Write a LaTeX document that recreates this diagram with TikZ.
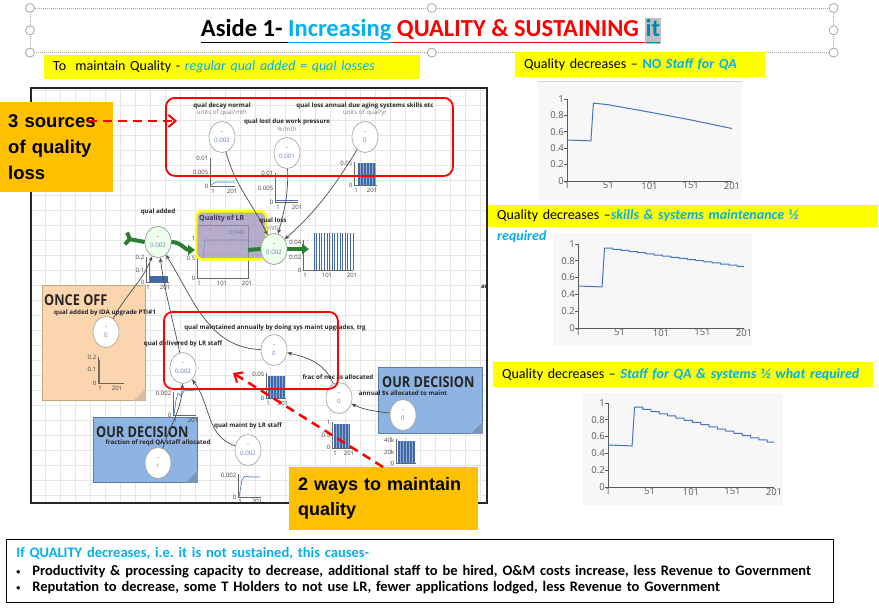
\documentclass[tikz,border=0pt]{standalone}
\usepackage{fontspec}
\setmainfont{Carlito}
\newfontfamily\arialfont{Liberation Sans}
\newfontfamily\imfont{Open Sans}
\usepackage{xcolor}
\usetikzlibrary{arrows.meta,positioning,shapes.geometric}

\definecolor{qcyan}{HTML}{00B0F0}
\definecolor{qred}{HTML}{FF0000}
\definecolor{qyellow}{HTML}{FFFF00}
\definecolor{qorange}{HTML}{FFC000}
\definecolor{decblue}{HTML}{8DB4E2}
\definecolor{decedge}{HTML}{5B7BA6}
\definecolor{peach}{HTML}{FBD5AE}
\definecolor{peachedge}{HTML}{C9A27E}
\definecolor{stockfill}{HTML}{9D92B9}
\definecolor{stocktext}{HTML}{3E3560}
\definecolor{flowgreen}{HTML}{2E7D32}
\definecolor{valblue}{HTML}{6B80B5}
\definecolor{barblue}{HTML}{3F69A9}
\definecolor{plotblue}{HTML}{4472C4}
\definecolor{chartbg}{HTML}{F7F7F7}
\definecolor{hlgrey}{HTML}{BFBFBF}
\definecolor{gridgrey}{HTML}{E6E6E6}

\begin{document}
\begin{tikzpicture}[x=1pt, y=-1pt,
    handle/.style={circle, draw=gray!70, fill=white, line width=0.8, minimum size=9, inner sep=0pt},
    hlbox/.style={fill=qyellow, anchor=north west, inner xsep=9, inner ysep=0, align=left, font=\fontsize{14}{16}\selectfont},
    callout/.style={fill=qorange, anchor=north west, inner xsep=8, inner ysep=0, align=left, font=\arialfont\bfseries\fontsize{18.5}{26}\selectfont},
    redbox/.style={draw=qred, line width=1.8, rounded corners=9, anchor=north west, inner sep=0pt},
    reddash/.style={draw=qred, line width=2.5, dash pattern=on 9pt off 6pt, -{Straight Barb[length=7pt, width=12pt, line width=2pt]}},
    decbox/.style={draw=decedge, fill=decblue, line width=0.8, anchor=north west, inner sep=0pt},
    stockbox/.style={draw=qyellow, line width=2.5, rounded corners=6, fill=stockfill, fill opacity=0.75, anchor=north west, inner sep=0pt},
    mvar/.style={ellipse, draw=gray!75, fill=white, line width=0.6, minimum width=26, minimum height=31, inner sep=0pt, align=center, text=valblue, font=\imfont\fontsize{6.2}{7}\selectfont},
    mflow/.style={mvar, fill=green!7},
    mlbl/.style={inner sep=0pt, text=black!85, font=\imfont\bfseries\fontsize{6.2}{7}\selectfont},
    munit/.style={inner sep=0pt, text=gray, font=\imfont\fontsize{6.2}{7}\selectfont},
    mtick/.style={inner sep=0.6pt, text=black!75, font=\imfont\fontsize{6}{6}\selectfont},
    maxis/.style={draw=black!60, line width=0.5},
    mline/.style={draw=plotblue, line width=0.6},
    mbar/.style={fill=barblue},
    stripe/.style={draw=barblue!55!white, line width=0.3},
    bigtag/.style={anchor=west, inner sep=0pt, text=black!85, font=\imfont\bfseries\fontsize{15}{15}\selectfont},
    link/.style={draw=black!70, line width=0.7, -{Stealth[length=5pt, width=4pt]}},
    pipe/.style={draw=flowgreen, line width=4},
    caxis/.style={draw=black!65, line width=0.9},
    ctick/.style={inner sep=1pt, text=black!65, font=\imfont\fontsize{9.5}{10}\selectfont},
    cline/.style={draw=plotblue, line width=1}
]
\useasboundingbox (0,0) rectangle (879,608);

\node[draw=gray!70, dash pattern=on 1pt off 1pt, line width=0.6, anchor=north west, minimum width=803, minimum height=44, inner sep=0pt] (titleframe) at (30,8) {};
\foreach \a [count=\i] in {north west,north,north east,east,south east,south,south west,west}
  \node[handle] (h\i) at (titleframe.\a) {};
\node[font=\bfseries\fontsize{24.5}{28}\selectfont, inner sep=0pt] (title) at (431,31) {\underline{\vphantom{g}Aside 1-\ }\textcolor{qcyan}{\underline{\vphantom{g}Increasing}}\textcolor{qred}{\underline{\vphantom{g}\ QUALITY \& SUSTAINING\ }}{\setlength{\fboxsep}{1pt}\colorbox{hlgrey}{\textcolor{qcyan!75!black}{\underline{\vphantom{g}it}}}}};

\node[hlbox, minimum width=376, minimum height=24, text width=358] (qualnote) at (44,55) {To\ \ maintain Quality - \textcolor{qcyan}{\itshape regular qual added = qual losses}};
\node[hlbox, minimum width=250, minimum height=25, text width=232] (casea) at (515,52) {Quality decreases -- \textcolor{qcyan}{\bfseries NO \itshape Staff for QA}};
\node[hlbox, minimum width=390, minimum height=22, text width=372] (caseb) at (488,205) {Quality decreases --\textcolor{qcyan}{\bfseries\itshape skills \& systems maintenance ½}};
\node[anchor=west, inner sep=0pt, text=qcyan, font=\bfseries\itshape\fontsize{14}{16}\selectfont] (casebmore) at (497,237) {required};
\node[hlbox, minimum width=380, minimum height=25, text width=362] (casec) at (493,362) {Quality decreases -- \textcolor{qcyan}{\bfseries\itshape Staff for QA \& systems ½ what required}};

\fill[chartbg] (538,81) rectangle (742,200);
\draw[gray!35, line width=1] (538,81) -- (742,81);
\begin{scope}[shift={(567,181)}, x=0.825pt, y=82pt]
  \draw[caxis] (0,1) -- (0,0) -- (200,0);
  \foreach \v in {0,0.2,0.4,0.6,0.8,1} {
    \draw[caxis] (0,\v) -- ++(-3pt,0);
    \node[ctick, anchor=east, xshift=-2pt] (ya\v) at (0,\v) {\v};
  }
  \foreach \t in {1,51,101,151,201}
    \node[ctick, anchor=north] (xa\t) at (\t-1,0) {\t};
  \draw[cline] plot coordinates {(0,0.5) (27,0.49) (29,0.49) (32,0.95) (50,0.93) (100,0.84) (150,0.745) (200,0.64)};
\end{scope}

\fill[chartbg] (553,233) rectangle (752,346);
\begin{scope}[shift={(578,328)}, x=0.83pt, y=84pt]
  \draw[caxis] (0,1) -- (0,0) -- (200,0);
  \foreach \v in {0,0.2,0.4,0.6,0.8,1} {
    \draw[caxis] (0,\v) -- ++(-3pt,0);
    \node[ctick, anchor=east, xshift=-2pt] (yb\v) at (0,\v) {\v};
  }
  \foreach \t in {1,51,101,151,201}
    \node[ctick, anchor=north] (xb\t) at (\t-1,0) {\t};
  \draw[cline] (0,0.5) -- (27,0.49) -- (29,0.49) -- (32,0.95) -- plot[domain=32:200, samples=337] (\x,{0.95-0.0135*floor((\x-32)/10)});
\end{scope}

\fill[chartbg] (583,393) rectangle (783,505);
\begin{scope}[shift={(608,487)}, x=0.83pt, y=84pt]
  \draw[caxis] (0,1) -- (0,0) -- (200,0);
  \foreach \v in {0,0.2,0.4,0.6,0.8,1} {
    \draw[caxis] (0,\v) -- ++(-3pt,0);
    \node[ctick, anchor=east, xshift=-2pt] (yc\v) at (0,\v) {\v};
  }
  \foreach \t in {1,51,101,151,201}
    \node[ctick, anchor=north] (xc\t) at (\t-1,0) {\t};
  \draw[cline] (0,0.5) -- (27,0.49) -- (29,0.49) -- (32,0.95) -- plot[domain=32:200, samples=337] (\x,{0.95-0.026*floor((\x-32)/10)});
\end{scope}

\begin{scope}
  \clip (31,88) rectangle (487,503);
  \fill[white] (31,88) rectangle (487,503);
  \draw[gridgrey, line width=0.5] (31,88) grid[step=15pt] (487,503);

  \node[draw=peachedge, fill=peach, line width=0.6, anchor=north west, minimum width=103, minimum height=115, inner sep=0pt] (oncebox) at (42,285) {};
  \fill[peachedge!70] (oncebox.south east) -- ++(-12,0) -- ++(12,-12) -- cycle;
  \node[bigtag] (oncetag) at (44,300) {\scalebox{0.85}[1]{ONCE OFF}};
  \node[decbox, minimum width=104, minimum height=65] (qadec) at (93,417) {};
  \fill[decedge!80] (qadec.south east) -- ++(-12,0) -- ++(12,-12) -- cycle;
  \node[bigtag] (qadectag) at (96,432) {\scalebox{0.85}[1]{OUR DECISION}};
  \node[decbox, minimum width=104, minimum height=66] (mdec) at (378,367) {};
  \fill[decedge!80] (mdec.south east) -- ++(-12,0) -- ++(12,-12) -- cycle;
  \node[bigtag] (mdectag) at (382,382) {\scalebox{0.85}[1]{OUR DECISION}};

  \draw[maxis] (210,158) -- (210,186) -- (235,186);
  \node[mtick, anchor=east] (d1) at (209,158) {0.01};
  \node[mtick, anchor=east] (d2) at (209,172) {0.005};
  \node[mtick, anchor=east] (d3) at (209,186) {0};
  \node[mtick, anchor=north] (d4) at (213,188) {1};
  \node[mtick, anchor=north] (d5) at (232,188) {201};
  \draw[mline] (211,185) -- (216,182) -- (235,182);

  \draw[maxis] (275,173) -- (275,202) -- (298,202);
  \node[mtick, anchor=east] (p1) at (274,173) {0.01};
  \node[mtick, anchor=east] (p2) at (274,188) {0.005};
  \node[mtick, anchor=east] (p3) at (274,202) {0};
  \node[mtick, anchor=north] (p4) at (278,204) {1};
  \node[mtick, anchor=north] (p5) at (297,204) {201};
  \draw[mline] (276,200) -- (298,200);

  \draw[maxis] (354,162) -- (354,185) -- (377,185);
  \node[mtick, anchor=east] (g1) at (353,163) {0.05};
  \node[mtick, anchor=east] (g2) at (353,185) {0};
  \node[mtick, anchor=north] (g3) at (356,187) {1};
  \node[mtick, anchor=north] (g4) at (372,187) {201};
  \fill[mbar] (358,163) rectangle (376,185);
  \foreach \s in {360,363,...,375} \draw[stripe] (\s,163) -- (\s,185);

  \draw[maxis] (146,257) -- (146,282) -- (169,282);
  \node[mtick, anchor=east] (a1) at (145,257) {0.2};
  \node[mtick, anchor=east] (a2) at (145,270) {0.1};
  \node[mtick, anchor=east] (a3) at (145,282) {0};
  \node[mtick, anchor=north] (a4) at (148,284) {1};
  \node[mtick, anchor=north] (a5) at (165,284) {201};
  \fill[mbar] (149,276) rectangle (168,282);
  \draw[mline] (149,282) -- (149,262);

  \draw[maxis] (197,225) rectangle (248,278);
  \node[mtick, anchor=east] (s1) at (196,238) {1};
  \node[mtick, anchor=east] (s2) at (196,258) {0.5};
  \node[mtick, anchor=east] (s3) at (196,278) {0};
  \node[mtick, anchor=north] (s4) at (199,280) {1};
  \node[mtick, anchor=north] (s5) at (222,280) {101};
  \node[mtick, anchor=north] (s6) at (247,280) {201};
  \draw[mline] (198,258) -- (203,258) -- (205,240) -- (247,240);
  \node[stockbox, minimum width=70, minimum height=48] (stock) at (195,210) {};
  \node[anchor=west, inner sep=0pt, text=stocktext, font=\imfont\bfseries\fontsize{7}{7}\selectfont] (stocklbl) at (199,219) {Quality of LR};
  \node[mtick, text=valblue] (stockval) at (237,232) {0.948};
  \node[mtick, text=red] (stockdot) at (210,231) {-};

  \draw[maxis] (303,240) -- (303,270) -- (353,270);
  \node[mtick, anchor=east] (l1) at (302,242) {0.04};
  \node[mtick, anchor=east] (l2) at (302,257) {0.02};
  \node[mtick, anchor=east] (l3) at (302,270) {0};
  \node[mtick, anchor=north] (l4) at (305,272) {1};
  \node[mtick, anchor=north] (l5) at (327,272) {101};
  \node[mtick, anchor=north] (l6) at (352,272) {201};
  \foreach \i in {0,...,15} \draw[barblue, line width=0.8] ({314+\i*2.6},233) -- ++(0,37);

  \draw[maxis] (98,357) -- (98,383) -- (124,383);
  \node[mtick, anchor=east] (o1) at (97,357) {0.2};
  \node[mtick, anchor=east] (o2) at (97,369) {0.1};
  \node[mtick, anchor=east] (o3) at (97,383) {0};
  \node[mtick, anchor=north] (o4) at (100,385) {1};
  \node[mtick, anchor=north] (o5) at (117,385) {201};
  \draw[mline] (99,383) -- (99,360);

  \draw[maxis] (266,373) -- (266,398) -- (286,398);
  \node[mtick, anchor=east] (m1) at (265,374) {0.05};
  \node[mtick, anchor=east] (m2) at (265,398) {0};
  \node[mtick, anchor=north] (m3) at (268,400) {1};
  \node[mtick, anchor=north] (m4) at (283,400) {201};
  \fill[mbar] (268,376) rectangle (285,398);
  \foreach \s in {270,273,...,284} \draw[stripe] (\s,376) -- (\s,398);

  \draw[maxis] (173,392) -- (173,415) -- (196,415);
  \node[mtick, anchor=east] (q1) at (172,393) {0.002};
  \node[mtick, anchor=east] (q2) at (172,415) {0};
  \node[mtick, anchor=north] (q3) at (175,417) {1};
  \node[mtick, anchor=north] (q4) at (193,417) {201};
  \draw[mline] (174,415) -- (176,400) -- (178,393) -- (181,396) -- (184,391) -- (196,390);

  \draw[maxis] (238,474) -- (238,497) -- (261,497);
  \node[mtick, anchor=east] (r1) at (237,475) {0.002};
  \node[mtick, anchor=east] (r2) at (237,497) {0};
  \node[mtick, anchor=north] (r3) at (240,498) {1};
  \node[mtick, anchor=north] (r4) at (257,498) {201};
  \draw[mline] (239,497) -- (242,480) -- (245,476) -- (250,477) -- (260,477);

  \draw[maxis] (332,422) -- (332,448) -- (352,448);
  \node[mtick, anchor=east] (f1) at (331,422) {1};
  \node[mtick, anchor=east] (f2) at (331,435) {0.5};
  \node[mtick, anchor=east] (f3) at (331,447) {0};
  \node[mtick, anchor=north] (f4) at (335,450) {1};
  \node[mtick, anchor=north] (f5) at (349,450) {201};
  \fill[mbar] (334,424) rectangle (350,448);
  \foreach \s in {336,339,...,349} \draw[stripe] (\s,424) -- (\s,448);

  \draw[maxis] (396,439) -- (396,463) -- (416,463);
  \node[mtick, anchor=east] (n1) at (395,440) {40k};
  \node[mtick, anchor=east] (n2) at (395,452) {20k};
  \node[mtick, anchor=east] (n3) at (395,463) {0};
  \fill[mbar] (398,441) rectangle (415,463);
  \foreach \s in {400,403,...,414} \draw[stripe] (\s,441) -- (\s,463);

  \coordinate (flowsrc) at (124,238);
  \coordinate (stockin) at (195,250);
  \coordinate (stockout) at (248,250);
  \coordinate (flowsink) at (309,249);

  \node[mflow] (qadd) at (158,242) {{\color{red}-}\\[2pt]0.002};
  \node[mflow] (qloss) at (274,249) {{\color{red}-}\\[2pt]0.002};
  \draw[pipe, {Straight Barb[reversed, length=4pt, width=12pt]}-] (flowsrc) -- (qadd.west);
  \draw[pipe, -{Triangle[length=7pt, width=10pt]}] (qadd.east) to[out=0, in=180] (stockin);
  \draw[pipe] (stockout) -- (qloss.west);
  \draw[pipe, -{Triangle[length=7pt, width=10pt]}] (qloss.east) -- (flowsink);
  \node[mflow] (qaddtop) at (qadd) {{\color{red}-}\\[2pt]0.002};
  \node[mflow] (qlosstop) at (qloss) {{\color{red}-}\\[2pt]0.002};

  \node[mvar] (decay) at (222,137) {{\color{red}-}\\[2pt]0.002};
  \node[mvar] (press) at (287,153) {{\color{red}-}\\[2pt]0.001};
  \node[mvar] (aging) at (365,137) {{\color{red}-}\\[2pt]0};
  \node[mvar] (once) at (106,332) {{\color{red}-}\\[2pt]0};
  \node[mvar] (qmaint) at (274,350) {{\color{red}-}\\[2pt]0};
  \node[mvar] (qdeliv) at (183,368) {{\color{red}-}\\[2pt]0.002};
  \node[mvar] (fracqa) at (158,463) {{\color{red}-}\\[2pt]1};
  \node[mvar] (lrstaff) at (248,450) {{\color{red}-}\\[2pt]0.002};
  \node[mvar] (fracs) at (339,398) {{\color{red}-}\\[2pt]0};
  \node[mvar] (annual) at (403,415) {{\color{red}-}\\[2pt]0};

  \draw[link] (decay) to[out=-75, in=115] (qloss);
  \draw[link] (press) to[out=-88, in=75] (qloss);
  \draw[link] (aging) to[out=-122, in=42] (qloss);
  \draw[link] (once) to[out=62, in=-112] (qadd);
  \draw[link] (qdeliv) to[out=102, in=-82] (qadd);
  \draw[link] (qmaint) to[out=178, in=-58] (qadd);
  \draw[link] (fracqa) to[out=72, in=-92] (qdeliv);
  \draw[link] (lrstaff) to[out=162, in=-52] (qdeliv);
  \draw[link] (fracs) to[out=112, in=-12] (qmaint);
  \draw[link] (annual) to[out=172, in=-25] (fracs);

  \node[mlbl] (decaylbl) at (222,106) {qual decay normal};
  \node[munit] (decayunit) at (222,113) {units of qual/mth};
  \node[mlbl] (presslbl) at (287,122) {qual lost due work pressure};
  \node[munit] (pressunit) at (287,129) {\%/mth};
  \node[mlbl] (aginglbl) at (365,106) {qual loss annual due aging systems skills etc};
  \node[munit] (agingunit) at (365,113) {units of qual/yr};
  \node[mlbl] (qaddlbl) at (158,212) {qual added};
  \node[mlbl] (qlosslbl) at (273,221) {qual loss};
  \node[munit] (qlossunit) at (272,228) {/mth};
  \node[mlbl] (oncelbl) at (105,313) {qual added by IDA upgrade PTI\#1};
  \node[mlbl] (qmaintlbl) at (275,328) {qual maintained annually by doing sys maint upgrades, trg};
  \node[mlbl] (qdelivlbl) at (183,344) {qual delivered by LR staff};
  \node[mlbl] (fracqalbl) at (158,443) {fraction of reqd QA staff allocated};
  \node[mlbl] (lrstafflbl) at (248,426) {qual maint by LR staff};
  \node[mlbl] (fracslbl) at (338,377) {frac of nec \$s allocated};
  \node[mlbl] (annuallbl) at (403,393) {annual \$s allocated to maint};
  \node[mlbl, anchor=west] (cutlbl) at (481,287) {ar};
\end{scope}
\draw[black!85, line width=1.3] (31,88) rectangle (487,503);

\node[redbox, minimum width=287, minimum height=78] (lossbox) at (165,97) {};
\node[redbox, minimum width=174, minimum height=77] (waysbox) at (163,311) {};

\node[callout, minimum width=113, minimum height=90, text width=97] (srcnote) at (0,102) {3 sources\\of quality\\loss};
\node[callout, minimum width=189, minimum height=63, text width=171, inner xsep=9, font=\arialfont\bfseries\fontsize{18}{25}\selectfont] (waysnote) at (289,467) {2 ways to maintain\\quality};
\coordinate (srcout) at (88,121);
\coordinate (lossin) at (177,121);
\coordinate (waysout) at (383,467);
\coordinate (waysin) at (233,373);
\draw[reddash] (srcout) -- (lossin);
\draw[reddash] (waysout) -- (waysin);

\node[draw=black, line width=0.9, anchor=north west, minimum width=827, minimum height=63, text width=807, inner xsep=10, inner ysep=0, align=left, font=\bfseries\fontsize{14.5}{16}\selectfont] (effects) at (6,539) {\textcolor{qcyan}{If QUALITY decreases, i.e.\ it is not sustained, this causes-}\\[2pt]
\makebox[16pt][l]{\raisebox{1.5pt}{\scalebox{0.55}{\textbullet}}}Productivity \& processing capacity to decrease, additional staff to be hired, O\&M costs increase, less Revenue to Government\\
\makebox[16pt][l]{\raisebox{1.5pt}{\scalebox{0.55}{\textbullet}}}Reputation to decrease, some T Holders to not use LR, fewer applications lodged, less Revenue to Government};
\end{tikzpicture}
\end{document}
